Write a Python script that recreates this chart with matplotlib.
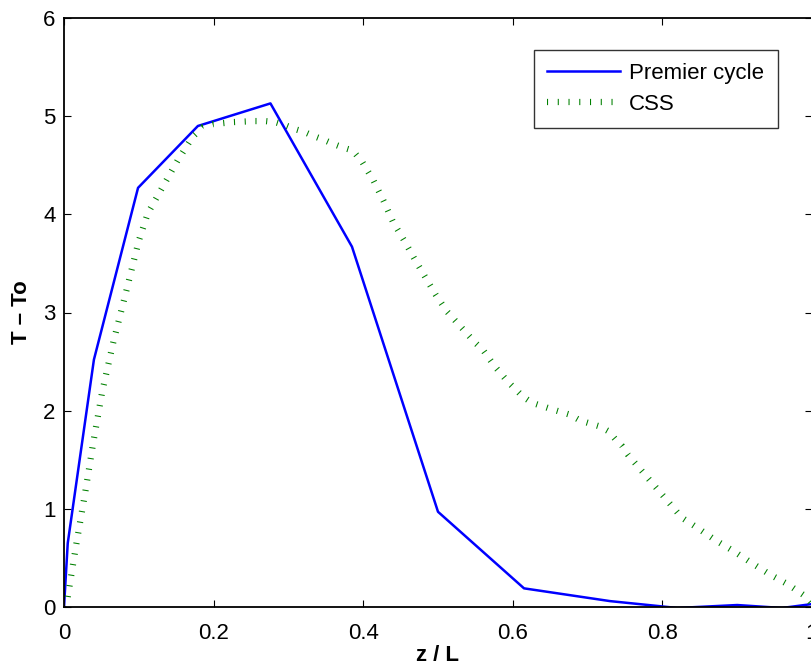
import matplotlib
matplotlib.use("Agg")
import matplotlib.pyplot as plt

plt.rcParams['font.family'] = ['Liberation Sans', 'DejaVu Sans']

# Premier cycle (piecewise linear)
z_first = [0.0, 0.005, 0.040, 0.099, 0.179, 0.276, 0.385, 0.500, 0.615, 0.730, 0.820, 0.900, 0.960, 1.000]
t_first = [0.0, 0.65, 2.52, 4.27, 4.90, 5.13, 3.67, 0.97, 0.19, 0.06, -0.01, 0.02, -0.01, 0.03]

# CSS profile
z_css = [0.0, 0.005, 0.016, 0.028, 0.039, 0.051, 0.066, 0.083, 0.100, 0.112, 0.132, 0.152,
         0.172, 0.186, 0.200, 0.227, 0.255, 0.269, 0.282, 0.295, 0.308, 0.321, 0.333, 0.347,
         0.359, 0.373, 0.386, 0.399, 0.414, 0.427, 0.440, 0.455, 0.469, 0.483, 0.497, 0.512,
         0.531, 0.550, 0.560, 0.576, 0.594, 0.614, 0.626, 0.638, 0.650, 0.663, 0.676, 0.690,
         0.703, 0.716, 0.728, 0.737, 0.746, 0.754, 0.772, 0.790, 0.808, 0.826, 0.848, 0.871,
         0.895, 0.919, 0.944, 0.968, 0.991, 1.000]
t_css = [0.0, 0.10, 0.62, 1.15, 1.67, 2.19, 2.70, 3.21, 3.73, 4.01, 4.28, 4.55,
         4.79, 4.89, 4.92, 4.94, 4.95, 4.95, 4.94, 4.91, 4.87, 4.84, 4.80, 4.76,
         4.72, 4.68, 4.65, 4.53, 4.34, 4.14, 3.92, 3.73, 3.54, 3.36, 3.18, 3.01,
         2.85, 2.69, 2.62, 2.45, 2.29, 2.14, 2.08, 2.05, 2.02, 1.99, 1.96, 1.90,
         1.87, 1.84, 1.79, 1.71, 1.64, 1.55, 1.39, 1.23, 1.07, 0.91, 0.80, 0.68,
         0.57, 0.45, 0.33, 0.23, 0.11, 0.03]

x_ticks = [0, 0.2, 0.4, 0.6, 0.8, 1]
x_ticklabels = ['0', '0.2', '0.4', '0.6', '0.8', '1']
y_ticks = [0, 1, 2, 3, 4, 5, 6]

fig = plt.figure(figsize=(8.12, 6.68), dpi=100)
ax = fig.add_axes([64 / 812, 61 / 668, 748 / 812, 589 / 668])

ax.plot(z_first, t_first, color=(0, 0, 1), linewidth=1.8, label='Premier cycle')
ax.plot(z_css, t_css, color=(0, 0.5, 0), linewidth=4.5,
        linestyle=(0, (0.17, 1.55)), dash_capstyle='butt', label='CSS')

ax.set_xlim(0, 1)
ax.set_ylim(0, 6)
ax.set_xticks(x_ticks)
ax.set_xticklabels(x_ticklabels)
ax.set_yticks(y_ticks)
ax.tick_params(direction='in', length=5, width=0.8, labelsize=16,
               top=True, right=True)
ax.tick_params(axis='x', pad=11.5)
ax.tick_params(axis='y', pad=6)
for s in ax.spines.values():
    s.set_linewidth(1.3)

ax.set_xlabel('z / L', fontsize=16, fontweight='bold', labelpad=0.5)
ax.set_ylabel('T \u2013 To', fontsize=16, fontweight='bold', labelpad=8)

leg = ax.legend(loc='upper right', bbox_to_anchor=(0.954, 0.946), borderaxespad=0,
                fontsize=16, frameon=True, fancybox=False, shadow=False,
                handlelength=3.3, handletextpad=0.4, labelspacing=0.45,
                borderpad=0.6)
leg.get_frame().set_edgecolor('black')
leg.get_frame().set_linewidth(1.0)

fig.savefig('out.png', dpi=100)
